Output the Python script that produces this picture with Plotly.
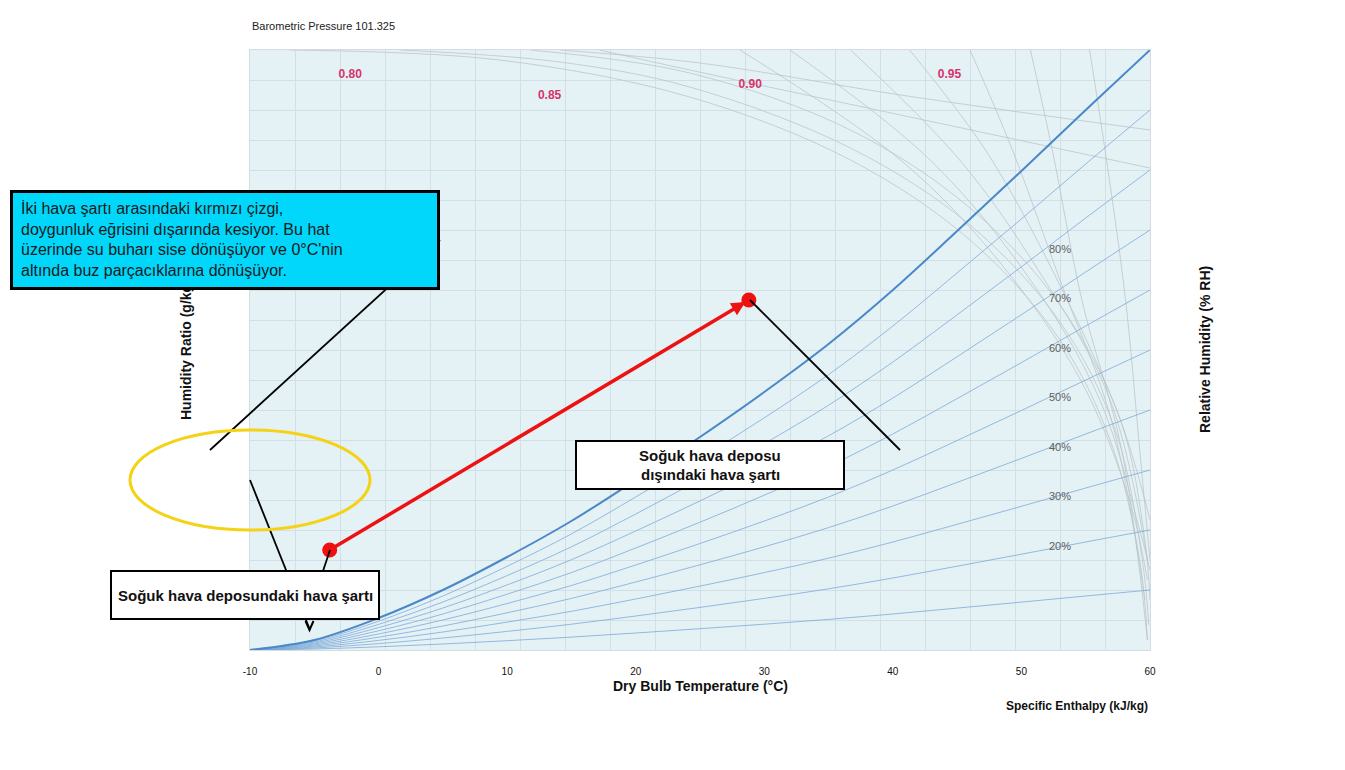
import plotly.graph_objects as go

# ---------------- data ----------------
temp_c = [-10, -5, 0, 5, 10, 15, 20, 25, 30, 35, 40, 45, 50, 55, 60]
sat_w = [0, 0.5, 1.6, 3.0, 4.65, 6.45, 8.5, 10.65, 12.9, 15.3, 18.0, 20.95, 23.95, 27.0, 30.0]

rh_levels = [10, 20, 30, 40, 50, 60, 70, 80, 90]
rh_label_text = ["20%", "30%", "40%", "50%", "60%", "70%", "80%"]
rh_label_t = [53.0] * 7
rh_label_w = [5.15, 7.65, 10.1, 12.6, 15.05, 17.55, 20.0]

sv_label_text = ["0.80", "0.85", "0.90", "0.95"]
sv_label_t = [-2.2, 13.3, 28.9, 44.4]
sv_label_w = [28.75, 27.7, 28.25, 28.75]

state_t = [-3.8, 28.8]   # cold room, outside
state_w = [5.0, 17.5]

gray_t = [
    [-6.9, 9.4, 24.2, 36.7, 46.0, 53.0, 56.9, 59.2, 59.8],
    [1.7, 14.1, 24.2, 36.7, 46.0, 53.0, 57.3, 59.4, 59.9],
    [11.8, 24.2, 36.7, 46.0, 53.0, 57.7, 59.6, 60.0],
    [28.1, 40.6, 48.3, 54.6, 58.4, 59.8],
    [32.0, 42.9, 50.7, 56.1, 59.2, 60.0],
    [36.7, 45.2, 51.4, 56.9, 59.8],
    [41.3, 47.2, 52.6, 57.7, 60.0],
    [46.0, 49.3, 53.0, 57.0, 59.6],
    [50.7, 52.4, 54.7, 57.8, 59.8],
    [55.3, 56.5, 58.1, 59.2, 60.0],
    [14.1, 25.0, 40.6, 60.0],
    [17.2, 24.2, 40.6, 60.0],
]
gray_w = [
    [30, 29.5, 27.65, 24.5, 20.5, 15.5, 10.5, 4.5, 0.5],
    [30, 29.4, 28.15, 25.1, 21.25, 16.4, 11, 4.5, 1.25],
    [30, 28.85, 26, 22.1, 17.25, 11.5, 5.5, 2.5],
    [30, 24.5, 19.4, 13.5, 7.5, 3.5],
    [30, 24.5, 18.5, 12.5, 6, 4],
    [30, 24.5, 18.9, 12.5, 4.5],
    [30, 25, 18.75, 11.5, 6.5],
    [30, 25, 18.5, 11.5, 2.5],
    [30, 25, 17.5, 10, 0.5],
    [30, 25, 17.5, 10, 4.5],
    [30, 29.35, 27.75, 26],
    [30, 29, 26.75, 24.1],
]

x_ticks = [-10, 0, 10, 20, 30, 40, 50, 60]
x_tick_text = ["-10", "0", "10", "20", "30", "40", "50", "60"]

# ---------------- layout helpers (pixel -> paper) ----------------
L, R, T, B = 250, 1150, 50, 650
def PX(x):
    return (x - L) / (R - L)
def PY(y):
    return (B - y) / (B - T)

FONT = "Arial, Liberation Sans, sans-serif"

fig = go.Figure()

for gt, gw in zip(gray_t, gray_w):
    fig.add_trace(go.Scatter(x=gt, y=gw, mode="lines", line=dict(color="rgba(185,195,200,0.75)", width=1, shape="spline"),
                             hoverinfo="skip", showlegend=False))

for rh in rh_levels:
    fig.add_trace(go.Scatter(x=temp_c, y=[rh / 100 * w for w in sat_w], mode="lines",
                             line=dict(color="rgba(120,165,215,0.75)", width=1, shape="spline"),
                             hoverinfo="skip", showlegend=False))

fig.add_trace(go.Scatter(x=temp_c, y=sat_w, mode="lines", line=dict(color="#4a88c9", width=2, shape="spline"),
                         hoverinfo="skip", showlegend=False))

fig.add_trace(go.Scatter(x=rh_label_t, y=rh_label_w, mode="text", text=rh_label_text,
                         textfont=dict(family=FONT, size=11, color="#5f5f5f"), hoverinfo="skip", showlegend=False))
fig.add_trace(go.Scatter(x=sv_label_t, y=sv_label_w, mode="text", text=[f"<b>{s}</b>" for s in sv_label_text],
                         textfont=dict(family=FONT, size=12, color="#d6336c"),
                         hoverinfo="skip", showlegend=False))

fig.add_trace(go.Scatter(x=state_t, y=state_w, mode="markers", marker=dict(color="#ee1111", size=15),
                         hoverinfo="skip", showlegend=False))

shapes = []
line_style = dict(color="black", width=1.8)
for (x0, y0, x1, y1) in [(440, 240, 210, 450), (250, 480, 310, 630), (330, 550, 320, 580), (750, 300, 900, 450)]:
    shapes.append(dict(type="line", xref="paper", yref="paper", x0=PX(x0), y0=PY(y0), x1=PX(x1), y1=PY(y1), line=line_style))
shapes.append(dict(type="path", xref="paper", yref="paper",
                   path=f"M {PX(305.5)} {PY(621)} L {PX(309.5)} {PY(630)} L {PX(313.5)} {PY(621)}",
                   line=dict(color="black", width=2)))
shapes.append(dict(type="circle", xref="paper", yref="paper", x0=PX(130), x1=PX(370), y0=PY(530), y1=PY(430),
                   line=dict(color="#f4d215", width=3)))

ann = []
def txt(x, y, s, size=11, bold=False, color="#222222", xanchor="center", angle=0):
    ann.append(dict(x=PX(x), y=PY(y), xref="paper", yref="paper", text=(f"<b>{s}</b>" if bold else s),
                    showarrow=False, xanchor=xanchor, yanchor="middle", textangle=angle,
                    font=dict(family=FONT, size=size, color=color)))

txt(250, 26, "Barometric Pressure 101.325", size=11, xanchor="left")
txt(186, 350, "Humidity Ratio (g/kg)", size=14, bold=True, color="#111111", angle=-90)
txt(1205, 350, "Relative Humidity (% RH)", size=14, bold=True, color="#111111", angle=-90)
txt(700, 686, "Dry Bulb Temperature (°C)", size=14, bold=True, color="#111111")
txt(1150, 706, "Specific Enthalpy (kJ/kg)", size=12, bold=True, color="#111111", xanchor="right")

def box(x0, y0, x1, y1, fill, bw):
    ann.append(dict(x=PX(x0), y=PY(y0), xref="paper", yref="paper", text=" ", showarrow=False,
                    xanchor="left", yanchor="top", width=(x1 - x0) - 2 * bw, height=(y1 - y0) - 2 * bw,
                    bgcolor=fill, bordercolor="black", borderwidth=bw, borderpad=0))

box(10, 190, 440, 290, "#00d7fb", 3)
for yy, s in zip([208, 229, 249, 270], ["İki hava şartı arasındaki kırmızı çizgi,",
                                         "doygunluk eğrisini dışarında kesiyor. Bu hat",
                                         "üzerinde su buharı sise dönüşüyor ve 0°C'nin",
                                         "altında buz parçacıklarına dönüşüyor."]):
    txt(19, yy, s, size=16, color="#1a1a1a", xanchor="left")

box(110, 570, 380, 620, "white", 2)
txt(245, 595, "Soğuk hava deposundaki hava şartı", size=15, bold=True, color="#111111")
box(575, 440, 845, 490, "white", 2)
txt(710, 455, "Soğuk hava deposu", size=15, bold=True, color="#111111")
txt(710, 475, "dışındaki hava şartı", size=15, bold=True, color="#111111")

# red connecting arrow between the two states
ann.append(dict(x=state_t[1], y=state_w[1], ax=state_t[0], ay=state_w[0], xref="x", yref="y", axref="x", ayref="y",
                text="", showarrow=True, arrowhead=2, arrowsize=0.8, arrowwidth=3.5, arrowcolor="#ee1111", standoff=4))

fig.update_layout(
    width=1345, height=770,
    margin=dict(l=L, r=1345 - R, t=T, b=770 - B),
    paper_bgcolor="white", plot_bgcolor="#e4f1f5",
    shapes=shapes, annotations=ann, showlegend=False,
    xaxis=dict(range=[-10, 60], tickvals=x_ticks, ticktext=x_tick_text, showgrid=False, zeroline=False,
               ticks="outside", ticklen=12, tickcolor="rgba(0,0,0,0)",
               tickfont=dict(family=FONT, size=10, color="#111111"),
               showline=True, mirror=True, linecolor="#d3dcdf", linewidth=1,
               minor=dict(tick0=-10, dtick=3.5, showgrid=True, gridcolor="#d2e0e5", gridwidth=1, ticks="")),
    yaxis=dict(range=[0, 30], dtick=1.5, showgrid=True, gridcolor="#d2e0e5", zeroline=False,
               showticklabels=False, ticks="", showline=True, mirror=True, linecolor="#d3dcdf", linewidth=1),
)

fig.write_html("out.html", config={"displayModeBar": False}, post_script="document.body.style.margin='0';")
